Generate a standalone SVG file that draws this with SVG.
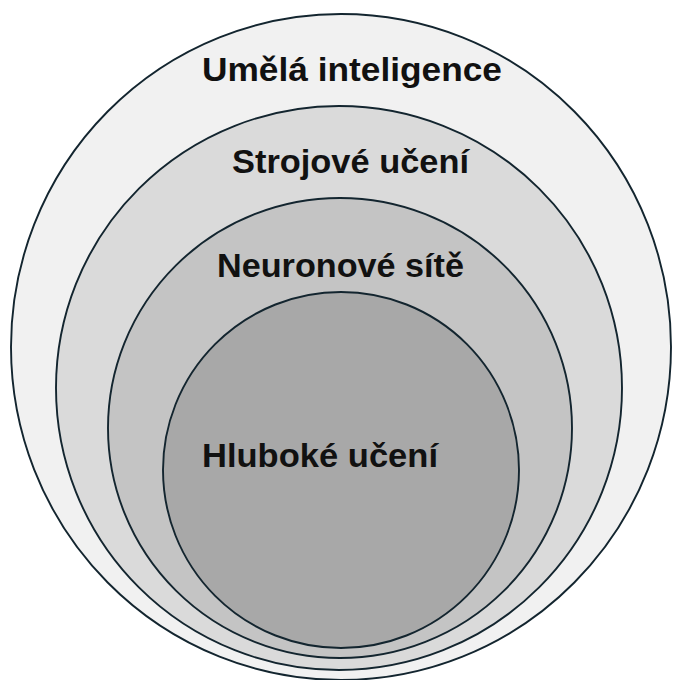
<svg xmlns="http://www.w3.org/2000/svg" width="674" height="680" viewBox="0 0 674 680">
<style>
.ring{stroke:#13252f;stroke-width:1.9}
.lbl{font-family:"Liberation Sans",Arial,sans-serif;font-weight:bold;font-size:33px;fill:#111}
</style>
<rect width="674" height="680" fill="#ffffff"/>
<g id="ai">
<ellipse class="ring" cx="341" cy="347" rx="330" ry="333" fill="#f1f1f1"/>
<text class="lbl" x="202" y="81" textLength="300" lengthAdjust="spacingAndGlyphs">Umělá inteligence</text>
</g>
<g id="ml">
<ellipse class="ring" cx="339" cy="388" rx="283" ry="282" fill="#dadada"/>
<text class="lbl" x="232" y="173" textLength="237" lengthAdjust="spacingAndGlyphs">Strojové učení</text>
</g>
<g id="nn">
<ellipse class="ring" cx="340" cy="428" rx="232" ry="230" fill="#c4c4c4"/>
<text class="lbl" x="217" y="277" textLength="247" lengthAdjust="spacingAndGlyphs">Neuronové sítě</text>
</g>
<g id="dl">
<ellipse class="ring" cx="341" cy="470" rx="178" ry="178" fill="#a8a8a8"/>
<text class="lbl" x="202" y="467" textLength="236" lengthAdjust="spacingAndGlyphs">Hluboké učení</text>
</g>
<g id="connectors"/>
</svg>
